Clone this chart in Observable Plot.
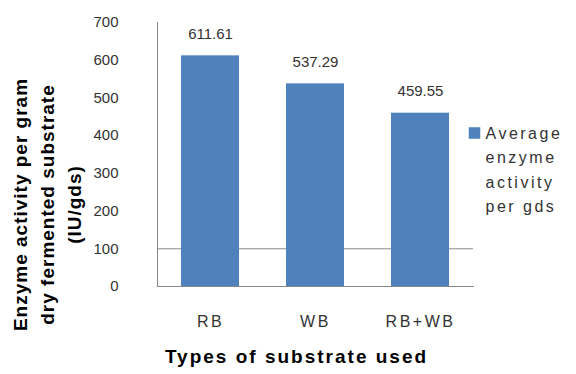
<!DOCTYPE html>
<html>
<head>
<meta charset="utf-8">
<script src="https://cdn.jsdelivr.net/npm/d3@7"></script>
<script src="https://cdn.jsdelivr.net/npm/@observablehq/plot@0.6"></script>
<style>
  html, body { margin: 0; padding: 0; background: #fff; }
  #chart { width: 576px; height: 374px; }
  g[aria-label="x-axis tick label"] text { letter-spacing: 2.5px; }
</style>
</head>
<body>
<div id="chart"></div>
<script>
const substrates = ["RB", "WB", "RB+WB"];
const activity = [611.61, 537.29, 459.55];
const yTicks = [0, 100, 200, 300, 400, 500, 600, 700];
const gridValues = [100];
const seriesName = "Average enzyme activity per gds";
const xTitle = "Types of substrate used";
const yTitle = ["Enzyme activity per gram", "dry fermented substrate", "(IU/gds)"];
const legendLines = ["Average", "enzyme", "activity", "per gds"];

const data = substrates.map((s, i) => ({substrate: s, value: activity[i]}));
const font = "Liberation Sans, Arial, sans-serif";
const barColor = "#4F81BD";

const chart = Plot.plot({
  width: 576,
  height: 374,
  marginLeft: 157,
  marginRight: 103,
  marginTop: 22,
  marginBottom: 88,
  style: {fontFamily: font, background: "#fff", color: "#333"},
  x: {domain: substrates, paddingInner: 0.45, paddingOuter: 0.225},
  y: {domain: [0, 700]},
  marks: [
    Plot.ruleY(gridValues, {stroke: "#888", strokeWidth: 1}),
    Plot.barY(data, {x: "substrate", y: "value", fill: barColor}),
    Plot.text(data, {x: "substrate", y: "value", text: d => d.value.toFixed(2), dy: -22, fontSize: 15, fill: "#333"}),
    Plot.axisY({ticks: yTicks, tickSize: 0, tickPadding: 39, fontSize: 15, label: null, tickFormat: d => String(d)}),
    Plot.axisX({tickSize: 0, tickPadding: 29, fontSize: 16, label: null}),
    Plot.frame({anchor: "left", stroke: "#888"}),
    Plot.frame({anchor: "bottom", stroke: "#888"}),
    Plot.text([xTitle], {frameAnchor: "bottom", dx: -19, dy: 76, fontSize: 19, fontWeight: "bold", fill: "#000"}),
    Plot.text([yTitle.join("\n")], {frameAnchor: "left", textAnchor: "middle", rotate: -90, dx: -112, dy: 50, fontSize: 19, fontWeight: "bold", fill: "#000", lineHeight: 1.42, lineAnchor: "middle"}),
    Plot.dot([seriesName], {frameAnchor: "right", symbol: "square", r: 6.5, fill: barColor, dx: 1, dy: -21.5}),
    Plot.text([legendLines.join("\n")], {frameAnchor: "right", textAnchor: "start", lineAnchor: "top", dx: 12, dy: -33, fontSize: 16, lineHeight: 1.53, fill: "#333"})
  ]
});
d3.select(chart).selectAll("text").each(function () {
  const t = this.textContent;
  if (t === xTitle) this.style.letterSpacing = "2px";
  else if (t.startsWith(yTitle[0])) this.style.letterSpacing = "1px";
  else if (t.startsWith(legendLines[0])) this.style.letterSpacing = "2.5px";
});
document.getElementById("chart").appendChild(chart);
</script>
</body>
</html>
